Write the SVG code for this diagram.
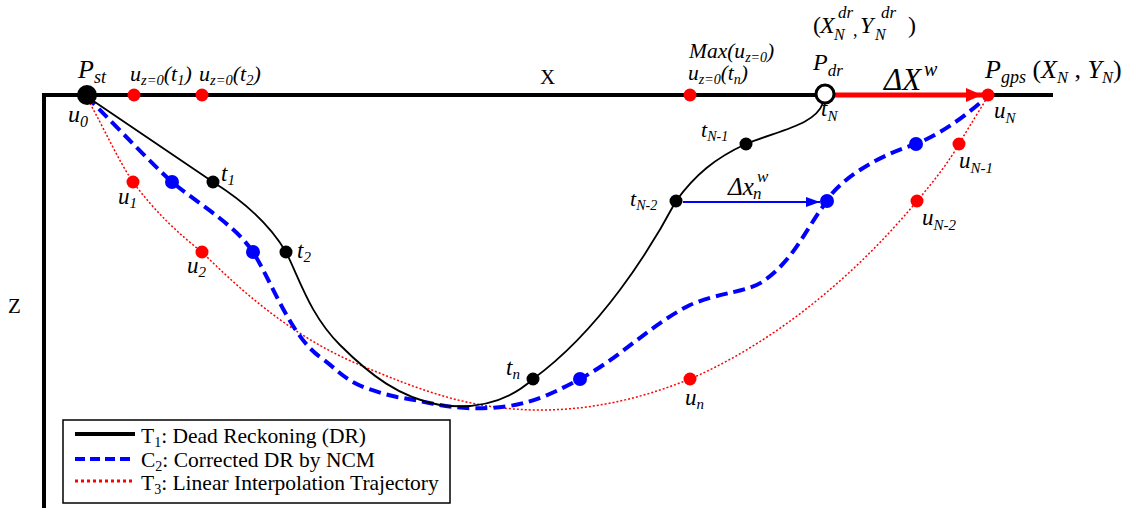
<svg xmlns="http://www.w3.org/2000/svg" width="1130" height="508" viewBox="0 0 1130 508" font-family="'Liberation Serif', 'Times New Roman', serif">
<style>
.m{font-family:"Liberation Serif","Times New Roman",serif;font-style:italic;fill:#000}
.n{font-family:"Liberation Serif","Times New Roman",serif;font-style:normal;fill:#000}
.axis{fill:none;stroke:#000;stroke-width:4}
.dr{fill:none;stroke:#000;stroke-width:1.8}
.cd{fill:none;stroke:#0000ff;stroke-width:4;stroke-dasharray:12 6}
.li{fill:none;stroke:#ff0000;stroke-width:1.5;stroke-dasharray:2 2}
.bk{fill:#000}
.bl{fill:#0000ff}
.rd{fill:#ff0000}
</style>
<defs>
<marker id="ahR" markerWidth="16" markerHeight="14" refX="16" refY="7" orient="auto" markerUnits="userSpaceOnUse"><path d="M0,0 L16,7 L0,14 Z" fill="#ff0000"/></marker>
<marker id="ahB" markerWidth="14" markerHeight="10" refX="14" refY="5" orient="auto" markerUnits="userSpaceOnUse"><path d="M0,0 L14,5 L0,10 Z" fill="#0000ff"/></marker>
</defs>
<rect width="1130" height="508" fill="#fff"/>
<g id="axes">
<path class="axis" d="M44,508 L44,95 L1053,95"/>
<text class="n" x="540" y="84" font-size="21">X</text>
<text class="n" x="8" y="313" font-size="21">Z</text>
</g>
<g id="connectors">
<path id="T3" class="li" d="M86,96 C105,130 118,160 133,182 C155,212 180,235 202,252 C250,300 300,340 360,365 C420,390 470,410 540,410 C600,410 650,395 690,379 C780,340 860,270 917,201 C935,180 950,160 959,144 C970,125 980,110 988,96"/>
<path id="C2" class="cd" d="M86,96 C120,130 150,162 172,182 C200,205 235,225 253,252 C272,282 290,335 320,357 C345,375 345,385 397,397 C430,402 450,410 490,408 C530,406 555,392 580,379 C620,358 650,325 690,305 C720,292 750,292 765,280 C795,258 805,230 827,201 C835,185 870,158 916,144 C945,132 970,112 988,96"/>
<path id="T1" class="dr" d="M86,96 L213,182 C245,202 270,225 286,252 C300,280 310,315 340,345 C370,375 400,398 440,405 C480,410 510,400 533,379 C600,330 650,250 676,201 C695,175 715,158 746,144 C780,130 815,125 823,103"/>
<path id="dXw" d="M834,95 L982,95" stroke="#ff0000" stroke-width="5" fill="none" marker-end="url(#ahR)"/>
<path id="dxn" d="M683,202 L820,202" stroke="#0000ff" stroke-width="2" fill="none" marker-end="url(#ahB)"/>
</g>
<g id="node-Pst"><circle class="bk" cx="87" cy="95" r="10"/>
<text class="m" x="78" y="78" font-size="26">P<tspan dy="5" font-size="18">st</tspan></text>
<text class="m" x="68" y="122" font-size="24">u<tspan dy="5" font-size="16">0</tspan></text></g>
<g id="node-uz1"><circle class="rd" cx="134" cy="95" r="6.5"/>
<text class="m" x="130" y="81" font-size="22">u<tspan dy="4" font-size="14.5">z=0</tspan><tspan dy="-4" font-size="22">(t</tspan><tspan dy="4" font-size="14.5">1</tspan><tspan dy="-4" font-size="22">)</tspan></text></g>
<g id="node-uz2"><circle class="rd" cx="202" cy="95" r="6.5"/>
<text class="m" x="199" y="81" font-size="22">u<tspan dy="4" font-size="14.5">z=0</tspan><tspan dy="-4" font-size="22">(t</tspan><tspan dy="4" font-size="14.5">2</tspan><tspan dy="-4" font-size="22">)</tspan></text></g>
<g id="node-uzn"><circle class="rd" cx="690" cy="95" r="6.5"/>
<text class="m" x="689" y="58" font-size="21.5">Max(u<tspan dy="4" font-size="14">z=0</tspan><tspan dy="-4" font-size="21.5">)</tspan></text>
<text class="m" x="688" y="80" font-size="21.5">u<tspan dy="4" font-size="14">z=0</tspan><tspan dy="-4" font-size="21.5">(t</tspan><tspan dy="4" font-size="14">n</tspan><tspan dy="-4" font-size="21.5">)</tspan></text></g>
<g id="node-Pdr"><circle cx="825" cy="94" r="9" fill="#fff" stroke="#000" stroke-width="3"/>
<text class="m" x="813" y="70" font-size="24">P<tspan dy="6" font-size="17">dr</tspan></text>
<text class="n" x="813" y="33" font-size="24">(</text>
<text class="m" x="820" y="33" font-size="24">X</text>
<text class="m" x="834" y="40" font-size="16">N</text>
<text class="m" x="838" y="18" font-size="17">dr</text>
<text class="n" x="853" y="36" font-size="18">,</text>
<text class="m" x="860" y="33" font-size="24">Y</text>
<text class="m" x="875" y="40" font-size="16">N</text>
<text class="m" x="881" y="18" font-size="17">dr</text>
<text class="n" x="908" y="33" font-size="24">)</text>
<text class="m" x="821" y="116" font-size="23">t<tspan dy="5" font-size="15">N</tspan></text></g>
<g id="label-dXw"><text class="m" x="884" y="90" font-size="31">ΔX</text><text class="m" x="924" y="76" font-size="20">w</text></g>
<g id="node-Pgps"><circle class="rd" cx="988" cy="95" r="6.5"/>
<text class="m" x="985" y="78" font-size="26">P<tspan dy="5" font-size="18">gps</tspan><tspan class="n" dy="-5" font-size="26"> (</tspan><tspan font-size="26">X</tspan><tspan dy="5" font-size="16.5">N</tspan><tspan class="n" dy="-5" font-size="26"> , </tspan><tspan font-size="26">Y</tspan><tspan dy="5" font-size="16.5">N</tspan><tspan class="n" dy="-5" font-size="26">)</tspan></text>
<text class="m" x="994" y="118" font-size="23">u<tspan dy="5" font-size="15">N</tspan></text></g>
<g id="node-t1"><circle class="bk" cx="213" cy="182" r="6.5"/><circle class="bl" cx="172" cy="182" r="7"/><circle class="rd" cx="133" cy="182" r="6.5"/>
<text class="m" x="221" y="181" font-size="23">t<tspan dy="4" font-size="15">1</tspan></text>
<text class="m" x="118" y="204" font-size="23">u<tspan dy="4" font-size="15">1</tspan></text></g>
<g id="node-t2"><circle class="bk" cx="286" cy="252" r="6.5"/><circle class="bl" cx="253" cy="252" r="7"/><circle class="rd" cx="202" cy="252" r="6.5"/>
<text class="m" x="297" y="258" font-size="23">t<tspan dy="4" font-size="15">2</tspan></text>
<text class="m" x="187" y="273" font-size="23">u<tspan dy="4" font-size="15">2</tspan></text></g>
<g id="node-tn"><circle class="bk" cx="533" cy="379" r="6.5"/><circle class="bl" cx="580" cy="379" r="7"/><circle class="rd" cx="690" cy="379" r="6.5"/>
<text class="m" x="506" y="375" font-size="23">t<tspan dy="4" font-size="15">n</tspan></text>
<text class="m" x="685" y="405" font-size="23">u<tspan dy="4" font-size="15">n</tspan></text></g>
<g id="node-tN2"><circle class="bk" cx="676" cy="201" r="6.5"/><circle class="bl" cx="827" cy="201" r="7"/><circle class="rd" cx="917" cy="201" r="6.5"/>
<text class="m" x="630" y="206" font-size="22">t<tspan dy="4" font-size="14">N-2</tspan></text>
<text class="m" x="922" y="225" font-size="23">u<tspan dy="5" font-size="15">N-2</tspan></text>
<text class="m" x="728" y="195" font-size="25">Δx</text><text class="m" x="753" y="199" font-size="17">n</text><text class="m" x="757" y="182" font-size="17">w</text></g>
<g id="node-tN1"><circle class="bk" cx="746" cy="144" r="6.5"/><circle class="bl" cx="916" cy="144" r="7"/><circle class="rd" cx="959" cy="144" r="6.5"/>
<text class="m" x="701" y="137" font-size="22">t<tspan dy="4" font-size="14">N-1</tspan></text>
<text class="m" x="959" y="168" font-size="23">u<tspan dy="5" font-size="15">N-1</tspan></text></g>
<g id="legend">
<rect x="63" y="420" width="387" height="83" fill="#fff" stroke="#000" stroke-width="1.5"/>
<line x1="75" y1="434" x2="135" y2="434" stroke="#000" stroke-width="4"/>
<line x1="75" y1="459" x2="135" y2="459" stroke="#0000ff" stroke-width="4" stroke-dasharray="10 5"/>
<line x1="75" y1="481" x2="135" y2="481" stroke="#ff0000" stroke-width="3" stroke-dasharray="3 3"/>
<text class="n" x="141" y="443" font-size="21.5">T<tspan dy="4" font-size="14">1</tspan><tspan dy="-4">: Dead Reckoning (DR)</tspan></text>
<text class="n" x="141" y="466.5" font-size="21.5">C<tspan dy="4" font-size="14">2</tspan><tspan dy="-4">: Corrected DR by NCM</tspan></text>
<text class="n" x="141" y="490" font-size="21.5">T<tspan dy="4" font-size="14">3</tspan><tspan dy="-4">: Linear Interpolation Trajectory</tspan></text>
</g>
</svg>
